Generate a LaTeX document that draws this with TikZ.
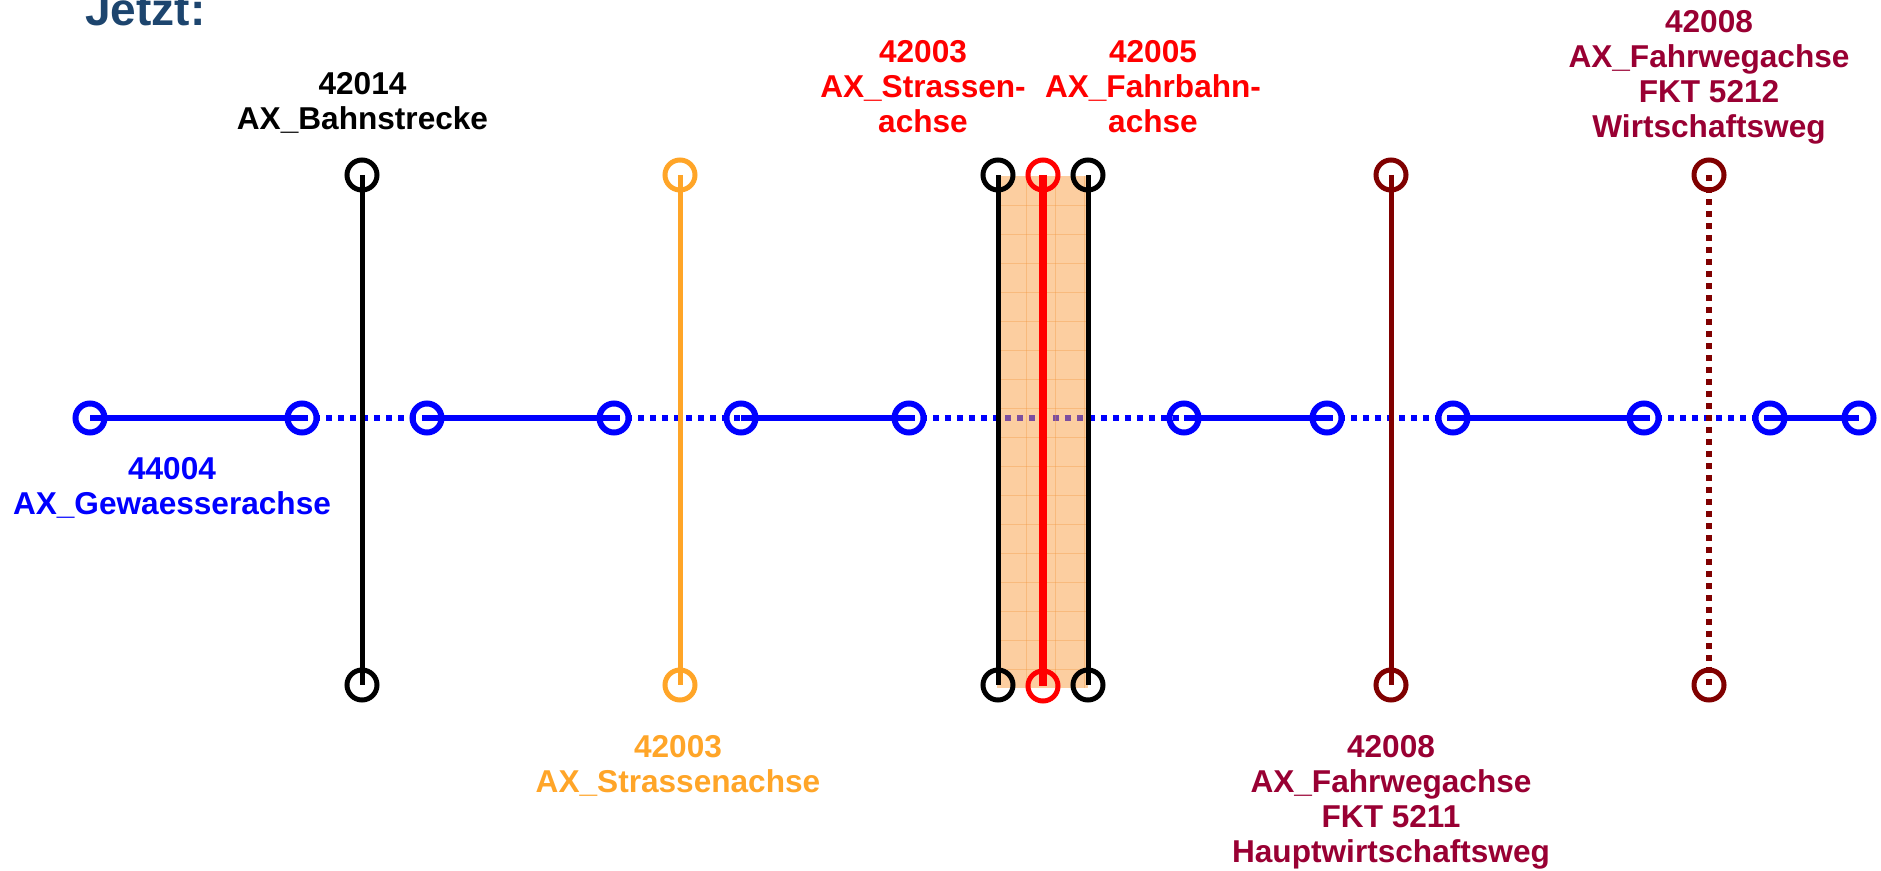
\documentclass[tikz,border=0pt]{standalone}
\usepackage{fontspec}
\setmainfont{Liberation Sans}
\definecolor{axblue}{RGB}{0,0,255}
\definecolor{axorange}{RGB}{255,165,40}
\definecolor{axred}{RGB}{255,0,0}
\definecolor{axmaroon}{RGB}{128,0,0}
\definecolor{axcrimson}{RGB}{153,0,51}
\definecolor{titleblue}{RGB}{29,69,110}
\definecolor{rectfill}{RGB}{249,157,65}
\definecolor{rectgrid}{RGB}{240,150,60}
\begin{document}
\begin{tikzpicture}[x=0.5pt,y=-0.5pt,
  lbl/.style={font=\fontsize{15.8}{17.5}\selectfont\bfseries, align=center, inner sep=0pt, anchor=base},
  ring/.style={circle, draw=#1, line width=2.5pt, minimum size=15pt, inner sep=0pt},
  bring/.style={circle, draw=axblue, line width=3pt, minimum size=14.5pt, inner sep=0pt},
  bsolid/.style={draw=axblue, line width=3pt},
  bdot/.style={draw=axblue, line width=3pt, dash pattern=on 3pt off 3pt},
  vline/.style={draw=#1, line width=2.5pt},
]
\useasboundingbox (0,0) rectangle (1881,871);

% title
\node[font=\fontsize{23}{27}\selectfont\bfseries, text=titleblue, anchor=base west, inner sep=0pt] (title) at (85,26) {Jetzt:};

% blue water axis
\foreach \i/\x in {1/90,2/302,3/427,4/614,5/741,6/909,7/1184,8/1327,9/1453,10/1644,11/1770,12/1859}
  \node[bring] (b\i) at (\x,418) {};
\draw[bsolid] (b1.center) -- (b2.center);
\draw[bdot] (b2.center) -- (b3.center);
\draw[bsolid] (b3.center) -- (b4.center);
\draw[bdot] (b4.center) -- (b5.center);
\draw[bsolid] (b5.center) -- (b6.center);
\draw[bdot] (b6.center) -- (b7.center);
\draw[bsolid] (b7.center) -- (b8.center);
\draw[bdot] (b8.center) -- (b9.center);
\draw[bsolid] (b9.center) -- (b10.center);
\draw[bdot] (b10.center) -- (b11.center);
\draw[bsolid] (b11.center) -- (b12.center);

% orange road area
\fill[rectfill, opacity=0.5] (997,176) rectangle (1088,688);
\begin{scope}
  \clip (997,176) rectangle (1088,688);
  \foreach \gx in {1026,1055,1084}
    \draw[rectgrid, line width=0.4pt, opacity=0.35] (\gx,176) -- (\gx,688);
  \foreach \gy in {205,234,263,292,321,350,379,408,437,466,495,524,553,582,611,640,669}
    \draw[rectgrid, line width=0.4pt, opacity=0.35] (997,\gy) -- (1088,\gy);
\end{scope}

% vertical axes
\node[ring=black] (k1t) at (362,175) {};
\node[ring=black] (k1b) at (362,685) {};
\draw[vline=black] (k1t.center) -- (k1b.center);

\node[ring=axorange] (ot) at (680,175) {};
\node[ring=axorange] (ob) at (680,685) {};
\draw[vline=axorange] (ot.center) -- (ob.center);

\node[ring=black] (k2t) at (998,175) {};
\node[ring=black] (k2b) at (998,685) {};
\draw[vline=black] (k2t.center) -- (k2b.center);

\node[ring=black] (k3t) at (1088,175) {};
\node[ring=black] (k3b) at (1088,685) {};
\draw[vline=black] (k3t.center) -- (k3b.center);

\node[ring=axred] (rt) at (1043,175) {};
\node[ring=axred] (rb) at (1043,686) {};
\draw[draw=axred, line width=3.8pt] (rt.center) -- (rb.center);

\node[ring=axmaroon] (mt) at (1391,175) {};
\node[ring=axmaroon] (mb) at (1391,685) {};
\draw[vline=axmaroon] (mt.center) -- (mb.center);

\node[ring=axmaroon] (dt) at (1709,175) {};
\node[ring=axmaroon] (db) at (1709,685) {};
\draw[vline=axmaroon, line width=3pt, dash pattern=on 3pt off 3pt] (dt.center) -- (db.center);

% labels (anchor = baseline of last line)
\node[lbl, text=black] (l1) at (362.5,130) {42014\\AX\_Bahnstrecke};
\node[lbl, text=axred] (l2) at (923,133) {42003\\AX\_Strassen-\\achse};
\node[lbl, text=axred] (l3) at (1153,133) {42005\\AX\_Fahrbahn-\\achse};
\node[lbl, text=axcrimson] (l4) at (1709,138) {42008\\AX\_Fahrwegachse\\FKT 5212\\Wirtschaftsweg};
\node[lbl, text=axblue] (l5) at (172,515) {44004\\AX\_Gewaesserachse};
\node[lbl, text=axorange] (l6) at (678,792) {42003\\AX\_Strassenachse};
\node[lbl, text=axcrimson] (l7) at (1391,862) {42008\\AX\_Fahrwegachse\\FKT 5211\\Hauptwirtschaftsweg};
\end{tikzpicture}
\end{document}
